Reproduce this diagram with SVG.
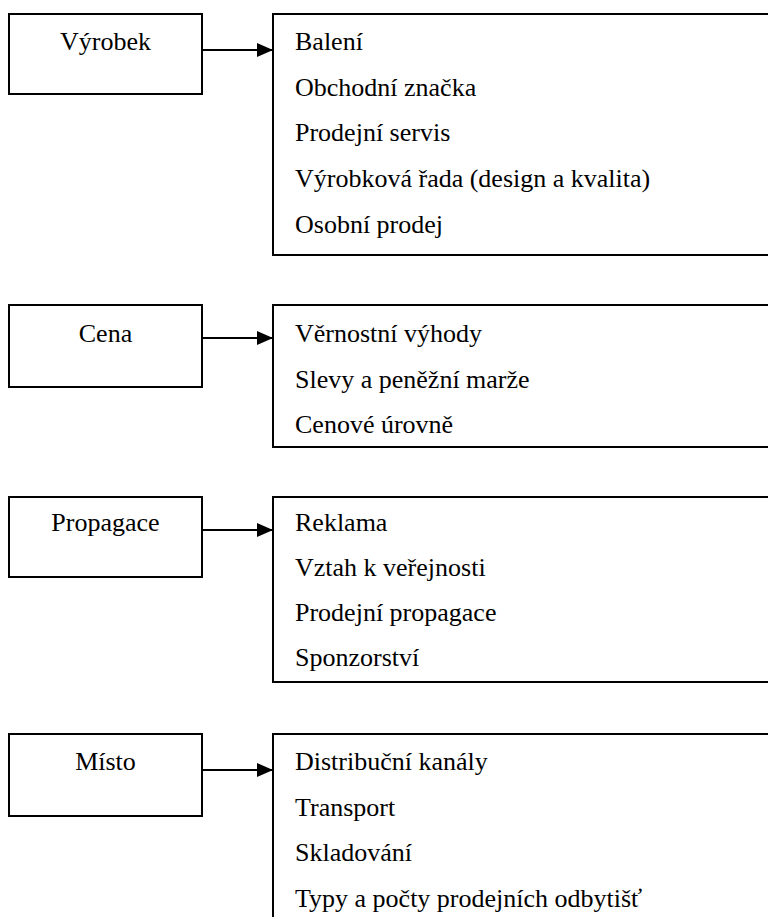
<svg xmlns="http://www.w3.org/2000/svg" width="768" height="917" viewBox="0 0 768 917">
  <defs>
    <marker id="arrow" viewBox="0 0 16 14" refX="16" refY="7" markerWidth="16" markerHeight="14" markerUnits="userSpaceOnUse" orient="auto">
      <path d="M0,0 L16,7 L0,14 Z" fill="#000"/>
    </marker>
  </defs>
  <rect width="768" height="917" fill="#fff"/>

  <!-- Product -->
  <g id="vyrobek">
    <rect x="9" y="14" width="193" height="80" fill="#fff" stroke="#000" stroke-width="2"/>
    <text x="105.5" y="50" text-anchor="middle" font-family="Liberation Serif" font-size="26">Výrobek</text>
  </g>
  <g id="vyrobek-items">
    <rect x="273" y="14" width="500" height="241" fill="#fff" stroke="#000" stroke-width="2"/>
    <text x="295" y="50" font-family="Liberation Serif" font-size="26">Balení</text>
    <text x="295" y="96" font-family="Liberation Serif" font-size="26">Obchodní značka</text>
    <text x="295" y="141" font-family="Liberation Serif" font-size="26">Prodejní servis</text>
    <text x="295" y="187" font-family="Liberation Serif" font-size="26">Výrobková řada (design a kvalita)</text>
    <text x="295" y="233" font-family="Liberation Serif" font-size="26">Osobní prodej</text>
  </g>

  <!-- Price -->
  <g id="cena">
    <rect x="9" y="305" width="193" height="82" fill="#fff" stroke="#000" stroke-width="2"/>
    <text x="105.5" y="342" text-anchor="middle" font-family="Liberation Serif" font-size="26">Cena</text>
  </g>
  <g id="cena-items">
    <rect x="273" y="305" width="500" height="142" fill="#fff" stroke="#000" stroke-width="2"/>
    <text x="295" y="342" font-family="Liberation Serif" font-size="26">Věrnostní výhody</text>
    <text x="295" y="388" font-family="Liberation Serif" font-size="26">Slevy a peněžní marže</text>
    <text x="295" y="433" font-family="Liberation Serif" font-size="26">Cenové úrovně</text>
  </g>

  <!-- Promotion -->
  <g id="propagace">
    <rect x="9" y="497" width="193" height="80" fill="#fff" stroke="#000" stroke-width="2"/>
    <text x="105.5" y="531" text-anchor="middle" font-family="Liberation Serif" font-size="26">Propagace</text>
  </g>
  <g id="propagace-items">
    <rect x="273" y="497" width="500" height="185" fill="#fff" stroke="#000" stroke-width="2"/>
    <text x="295" y="531" font-family="Liberation Serif" font-size="26">Reklama</text>
    <text x="295" y="576" font-family="Liberation Serif" font-size="26">Vztah k veřejnosti</text>
    <text x="295" y="621" font-family="Liberation Serif" font-size="26">Prodejní propagace</text>
    <text x="295" y="666" font-family="Liberation Serif" font-size="26">Sponzorství</text>
  </g>

  <!-- Place -->
  <g id="misto">
    <rect x="9" y="734" width="193" height="82" fill="#fff" stroke="#000" stroke-width="2"/>
    <text x="105.5" y="770" text-anchor="middle" font-family="Liberation Serif" font-size="26">Místo</text>
  </g>
  <g id="misto-items">
    <rect x="273" y="734" width="500" height="200" fill="#fff" stroke="#000" stroke-width="2"/>
    <text x="295" y="770" font-family="Liberation Serif" font-size="26">Distribuční kanály</text>
    <text x="295" y="816" font-family="Liberation Serif" font-size="26">Transport</text>
    <text x="295" y="861" font-family="Liberation Serif" font-size="26">Skladování</text>
    <text x="295" y="907" font-family="Liberation Serif" font-size="26">Typy a počty prodejních odbytišť</text>
  </g>

  <g id="connectors" stroke="#000" stroke-width="2" fill="none">
    <line x1="202" y1="50" x2="273" y2="50" marker-end="url(#arrow)"/>
    <line x1="202" y1="338" x2="273" y2="338" marker-end="url(#arrow)"/>
    <line x1="202" y1="530" x2="273" y2="530" marker-end="url(#arrow)"/>
    <line x1="202" y1="770" x2="273" y2="770" marker-end="url(#arrow)"/>
  </g>
</svg>
